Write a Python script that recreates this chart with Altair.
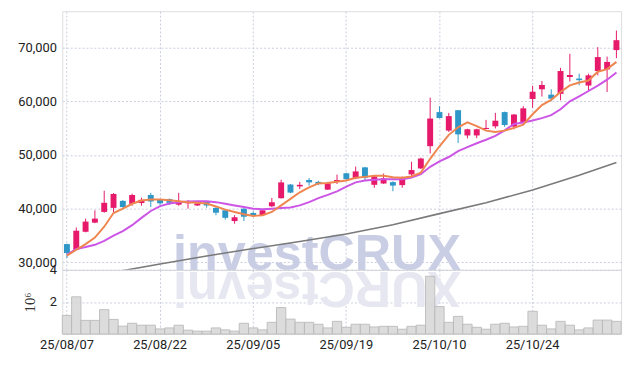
import altair as alt
import pandas as pd

dates = [
    "25/08/07", "25/08/08", "25/08/11", "25/08/12", "25/08/13", "25/08/14", "25/08/18", "25/08/19",
    "25/08/20", "25/08/21", "25/08/22", "25/08/25", "25/08/26", "25/08/27", "25/08/28", "25/08/29",
    "25/09/01", "25/09/02", "25/09/03", "25/09/04", "25/09/05", "25/09/08", "25/09/09", "25/09/10",
    "25/09/11", "25/09/12", "25/09/15", "25/09/16", "25/09/17", "25/09/18", "25/09/19", "25/09/22",
    "25/09/23", "25/09/24", "25/09/25", "25/09/26", "25/09/29", "25/09/30", "25/10/01", "25/10/02",
    "25/10/10", "25/10/13", "25/10/14", "25/10/15", "25/10/16", "25/10/17", "25/10/20", "25/10/21",
    "25/10/22", "25/10/23", "25/10/24", "25/10/27", "25/10/28", "25/10/29", "25/10/30", "25/10/31",
    "25/11/03", "25/11/04", "25/11/05", "25/11/06",
]
opens = [33400, 32350, 35700, 37400, 39400, 40150, 41450, 40900, 41050, 42550,
         41650, 41800, 40750, 41000, 40600, 41250, 40150, 39700, 37700, 40000,
         39200, 38800, 40450, 41950, 44500, 44150, 45350, 45000, 43550, 45100,
         46600, 45650, 47700, 44450, 44700, 44950, 44400, 46400, 47500, 51650,
         58000, 54550, 58350, 53650, 53650, 54850, 55350, 58000, 55300, 56050,
         60450, 62250, 61250, 61400, 64550, 64250, 62950, 65650, 65950, 69550]
highs = [33500, 36500, 38150, 39700, 43350, 42900, 41600, 42800, 42050, 42950,
         41800, 41900, 42950, 41600, 41200, 41400, 40300, 39800, 38800, 40100,
         39500, 39800, 42000, 45400, 44600, 45000, 45700, 45200, 45000, 46350,
         46700, 47850, 47800, 46150, 46550, 45100, 46000, 48750, 49500, 60700,
         59100, 57850, 58400, 54900, 54900, 56550, 57850, 58100, 57650, 59100,
         62900, 63800, 62250, 66250, 68850, 65150, 65150, 70100, 68350, 73200]
lows = [30800, 32300, 35600, 37300, 39250, 39200, 40200, 40550, 40550, 40300,
        40700, 40700, 40550, 40000, 40500, 40200, 38780, 37980, 37200, 37700,
        38500, 38700, 40300, 41900, 42900, 43650, 44300, 44400, 43500, 44600,
        45300, 45500, 45200, 43900, 44600, 43250, 43900, 46000, 47400, 50300,
        56800, 54300, 52250, 53100, 53150, 54800, 54950, 55250, 54800, 55850,
        58800, 60900, 60000, 60200, 63700, 63000, 61750, 64850, 61750, 68050]
closes = [31750, 35900, 37600, 38150, 41100, 42750, 40300, 42550, 41650, 41350,
          41000, 41100, 41450, 41400, 40970, 40600, 39250, 38300, 38400, 38500,
          38650, 39700, 41200, 44900, 43000, 44450, 44900, 44600, 44750, 45350,
          45500, 46950, 45750, 46000, 45650, 44300, 45850, 47200, 49350, 56800,
          56900, 57250, 53850, 54800, 54800, 55050, 56400, 55600, 57550, 58700,
          61800, 63050, 60500, 65650, 64900, 63950, 64850, 68250, 67350, 71400]
volumes_m = [1.16, 2.32, 0.85, 0.85, 1.52, 0.91, 0.49, 0.67, 0.55, 0.55,
             0.32, 0.38, 0.55, 0.24, 0.18, 0.18, 0.38, 0.26, 0.18, 0.67,
             0.38, 0.26, 0.73, 1.65, 0.93, 0.73, 0.73, 0.61, 0.38, 0.79,
             0.42, 0.61, 0.61, 0.44, 0.48, 0.48, 0.30, 0.48, 0.55, 3.60,
             1.71, 0.73, 1.10, 0.61, 0.42, 0.30, 0.61, 0.67, 0.44, 0.48,
             1.42, 0.55, 0.32, 0.79, 0.55, 0.26, 0.38, 0.87, 0.87, 0.79]
ma_short = [31250, 32350, 33400, 34620, 36640, 39200, 40000, 40920, 41520, 41700,
            41700, 41580, 41400, 41220, 41100, 40970, 40420, 39820, 39390, 38960,
            38650, 38770, 39390, 40610, 41835, 43060, 43980, 44710, 44770, 45010,
            45250, 45750, 45930, 46120, 46120, 45870, 45750, 46000, 46730, 49300,
            51630, 53760, 55170, 56090, 55400, 54550, 54300, 54550, 55050, 55660,
            57600, 59300, 60280, 61740, 62970, 63520, 63880, 65530, 66010, 67360]
ma_mid = [31400, 32480, 32850, 33270, 34000, 34990, 35830, 36930, 38290, 39570,
          40490, 40970, 41220, 41340, 41400, 41380, 41220, 40920, 40610, 40300,
          40000, 39880, 40000, 40120, 40240, 40610, 41220, 41960, 42570, 43240,
          44130, 44900, 45260, 45380, 45500, 45500, 45500, 45810, 46420, 47800,
          48810, 49630, 50730, 51470, 52200, 52850, 53580, 54590, 55790, 56060,
          56420, 56880, 57430, 58530, 60000, 60920, 61930, 62940, 64040, 65380]
ma_long_idx = [0, 5, 10, 15, 20, 25, 30, 35, 40, 45, 50, 55, 59]
ma_long = [26800, 28150, 29700, 31200, 32570, 33900, 35300, 36990, 39080, 41100, 43490, 46240, 48630]
tick_dates = ["25/08/07", "25/08/22", "25/09/05", "25/09/19", "25/10/10", "25/10/24"]
price_ticks = [30000, 40000, 50000, 60000, 70000]
volume_ticks = [2000000, 4000000]
watermark = ["investCRUX"]

RED = "#e6196a"
BLUE = "#2e97c8"
GRID = "#c9cde0"
FONT = "Roboto"
FS = 13

df = pd.DataFrame({"date": dates, "open": opens, "high": highs, "low": lows,
                   "close": closes, "volume": [v * 1e6 for v in volumes_m],
                   "ma_short": ma_short, "ma_mid": ma_mid})
df_long = pd.DataFrame({"date": [dates[i] for i in ma_long_idx], "ma_long": ma_long})
wm = pd.DataFrame({"t": watermark, "r": [w[::-1] for w in watermark]})

W = 566
xscale = alt.Scale(type="band", domain=dates, paddingInner=0, paddingOuter=0)
x_price = alt.X("date:O", scale=xscale, title=None,
                axis=alt.Axis(values=tick_dates, labels=False, ticks=False, domain=False,
                              grid=True, gridColor=GRID, gridDash=[2, 2], bandPosition=0.5,
                              minExtent=0, maxExtent=0, labelPadding=0))
yscale = alt.Scale(domain=[28600, 76800], nice=False, zero=False)
y_axis = alt.Axis(values=price_ticks, labelExpr="format(datum.value, ',.0f')", grid=True,
                  gridColor=GRID, gridDash=[2, 2],
                  ticks=False, domain=False, labelFontSize=FS, labelFont=FONT,
                  labelColor="#222222", labelPadding=6)

color_cond = alt.condition("datum.close >= datum.open", alt.value(RED), alt.value(BLUE))

wm_text = alt.Chart(wm).mark_text(font="Liberation Sans", fontWeight="bold", fontSize=51,
                                  color="#c9cee4", align="center", baseline="alphabetic").encode(
    text="t:N", x=alt.value(W / 2 - 25), y=alt.value(262))

wick = alt.Chart(df).mark_rule(strokeWidth=1).encode(
    x=x_price,
    y=alt.Y("low:Q", scale=yscale, axis=y_axis, title=None),
    y2="high:Q",
    color=color_cond)
body = alt.Chart(df).mark_bar(size=6).encode(
    x=alt.X("date:O", scale=xscale),
    y=alt.Y("open:Q", scale=yscale),
    y2="close:Q",
    color=color_cond)
line_long = alt.Chart(df_long).mark_line(color="#7a7a7a", strokeWidth=1.6, clip=True).encode(
    x=alt.X("date:O", scale=xscale), y=alt.Y("ma_long:Q", scale=yscale))
line_mid = alt.Chart(df).mark_line(color="#cc55e6", strokeWidth=2, clip=True).encode(
    x=alt.X("date:O", scale=xscale), y=alt.Y("ma_mid:Q", scale=yscale))
line_short = alt.Chart(df).mark_line(color="#ef8650", strokeWidth=2, clip=True).encode(
    x=alt.X("date:O", scale=xscale), y=alt.Y("ma_short:Q", scale=yscale))

price = alt.layer(wm_text, line_long, wick, body, line_mid, line_short).properties(width=W, height=262)

wm_refl = alt.Chart(wm).mark_text(font="Liberation Sans", fontWeight="bold", fontSize=51,
                                  color="#e6e7f0", align="center", baseline="alphabetic",
                                  angle=180).encode(
    text="r:N", x=alt.value(W / 2 - 25), y=alt.value(2))

vol = alt.Chart(df).mark_bar(fill="#d9d9d9", stroke="#b9b9b9", strokeWidth=1, opacity=0.9).encode(
    x=alt.X("date:O", scale=xscale, title=None,
            axis=alt.Axis(values=tick_dates, labelAngle=0, ticks=False, domain=False, grid=True,
                          gridColor=GRID, gridDash=[2, 2], bandPosition=0.5, labelFontSize=FS,
                          labelFont=FONT, labelColor="#222222", labelPadding=5)),
    y=alt.Y("volume:Q", scale=alt.Scale(domain=[0, 4000000], nice=False),
            axis=alt.Axis(values=volume_ticks, labelExpr="datum.value / 1000000", grid=True,
                          gridColor=GRID, gridDash=[2, 2], ticks=False, domain=False,
                          labelFontSize=FS, labelFont=FONT, labelColor="#222222", labelPadding=6,
                          title="10⁶", titleFont="Liberation Serif", titleFontWeight="normal",
                          titleFontSize=15, titleColor="#333333", titlePadding=12)))

volume = alt.layer(wm_refl, vol).properties(width=W, height=65)

chart = alt.vconcat(price, volume, spacing=0, bounds="flush").properties(
    padding={"left": 9, "top": 0, "right": 5, "bottom": 2}
).configure_view(stroke="#cfd2de").configure(background="white")

chart.save("out.html", embed_options={"renderer": "svg", "actions": False})
